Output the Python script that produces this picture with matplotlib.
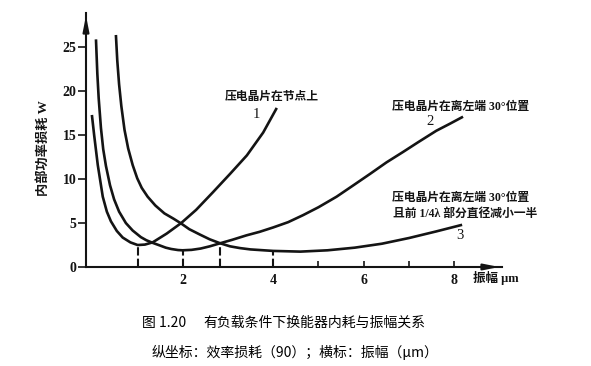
import matplotlib.pyplot as plt

# curve 1: crystal at node
c1_x = [0.0, 0.05, 0.13, 0.24, 0.33, 0.42, 0.55, 0.68, 0.85, 1.01, 1.17, 1.34, 1.65, 1.97,
        2.3, 2.67, 3.05, 3.42, 3.78, 4.08]
c1_y = [17.3, 15.0, 11.6, 8.0, 6.3, 5.2, 4.1, 3.35, 2.8, 2.5, 2.55, 2.8, 3.8, 5.0,
        6.5, 8.5, 10.6, 12.7, 15.3, 18.1]

# curve 2: crystal 30 deg from left end
c2_x = [0.09, 0.12, 0.15, 0.2, 0.25, 0.31, 0.4, 0.49, 0.6, 0.75, 0.9, 1.08, 1.2, 1.34, 1.5,
        1.63, 1.75, 1.9, 2.0, 2.2, 2.4, 2.6, 2.83, 3.1, 3.41, 3.7, 4.0, 4.33, 4.66, 5.0,
        5.4, 5.8, 6.14, 6.5, 6.87, 7.2, 7.6, 7.9, 8.19]
c2_y = [25.9, 22.0, 19.2, 15.8, 13.4, 11.5, 9.3, 7.7, 6.3, 5.0, 4.15, 3.4, 3.05, 2.75, 2.45,
        2.2, 2.05, 1.93, 1.9, 1.95, 2.1, 2.35, 2.7, 3.1, 3.6, 4.0, 4.5, 5.1, 5.9, 6.8,
        8.0, 9.4, 10.6, 11.9, 13.1, 14.2, 15.5, 16.3, 17.1]

# curve 3: same, front quarter-wave diameter halved
c3_x = [0.53, 0.56, 0.6, 0.65, 0.72, 0.8, 0.9, 1.0, 1.1, 1.23, 1.4, 1.6, 1.8, 1.97, 2.15,
        2.38, 2.6, 2.83, 3.05, 3.27, 3.5, 4.0, 4.6, 5.2, 5.8, 6.4, 7.0, 7.6, 8.17]
c3_y = [26.4, 23.5, 20.8, 18.3, 15.6, 13.5, 11.6, 10.1, 9.0, 8.0, 7.0, 6.1, 5.5, 4.95, 4.3,
        3.7, 3.15, 2.7, 2.35, 2.15, 2.0, 1.83, 1.75, 1.9, 2.2, 2.65, 3.3, 4.05, 4.8]

# dashed drop lines to the axis
drop_x = [1.01, 2.0, 2.83, 4.0]
drop_y = [2.5, 1.9, 2.7, 1.83]

x_ticks = [2, 4, 6, 8]
x_minor = [5, 7]
y_ticks = [0, 5, 10, 15, 20, 25]

ink = "#141414"
serif_cjk = ["Liberation Serif", "Noto Sans CJK SC"]
sans_cjk = ["Noto Sans CJK SC", "DejaVu Sans"]

fig = plt.figure(figsize=(5.91, 3.66), dpi=100)
ax = fig.add_axes([86 / 591, 1 - 267 / 366, (502 - 86) / 591, (267 - 13) / 366])

ax.plot(c1_x, c1_y, color=ink, lw=1.9, solid_capstyle="butt", solid_joinstyle="round")
ax.plot(c2_x, c2_y, color=ink, lw=1.9, solid_capstyle="butt", solid_joinstyle="round")
ax.plot(c3_x, c3_y, color=ink, lw=1.9, solid_capstyle="butt", solid_joinstyle="round")
ax.vlines(drop_x, 0, drop_y, colors=ink, lw=1.5, linestyles=(0, (4, 1.5)))

ax.set_xlim(-0.13, 9.05)
ax.set_ylim(0, 28.9)

for s in ["top", "right"]:
    ax.spines[s].set_visible(False)
for s in ["left", "bottom"]:
    ax.spines[s].set_linewidth(1.5)
    ax.spines[s].set_color(ink)

ax.set_xticks(x_ticks)
ax.set_xticks(x_minor, minor=True)
ax.set_yticks(y_ticks)
ax.tick_params(axis="x", which="both", direction="in", length=4, width=1.2, color=ink, pad=5)
ax.tick_params(axis="y", direction="out", length=6, width=1.2, color=ink, pad=1)
for lab in ax.get_xticklabels() + ax.get_yticklabels():
    lab.set_fontfamily("Liberation Serif")
    lab.set_fontweight("bold")
    lab.set_fontsize(10)
    lab.set_color(ink)

# axis arrows
ax.annotate("", xy=(0, 1.0), xytext=(0, 0.93), xycoords="axes fraction",
            arrowprops=dict(arrowstyle="-|>,head_length=0.9,head_width=0.18", color=ink, lw=1.5))
ax.annotate("", xy=(1.0, 0), xytext=(0.95, 0), xycoords="axes fraction",
            arrowprops=dict(arrowstyle="-|>,head_length=0.9,head_width=0.18", color=ink, lw=1.5))

# curve annotations
ax.text(2.94, 19.3, "压电晶片在节点上", family=serif_cjk, fontsize=8.5, fontweight="bold",
        ha="left", va="center", color=ink)
ax.text(3.64, 17.3, "1", family="Liberation Serif", fontsize=10.5, ha="center", va="center", color=ink)
ax.text(6.62, 18.2, "压电晶片在离左端 30°位置", family=serif_cjk, fontsize=8.5, fontweight="bold",
        ha="left", va="center", color=ink)
ax.text(7.46, 16.5, "2", family="Liberation Serif", fontsize=10.5, ha="center", va="center", color=ink)
ax.text(6.62, 7.84, "压电晶片在离左端 30°位置", family=serif_cjk, fontsize=8.5, fontweight="bold",
        ha="left", va="center", color=ink)
ax.text(6.64, 6.0, "且前 1/4λ 部分直径减小一半", family=serif_cjk, fontsize=8.5, fontweight="bold",
        ha="left", va="center", color=ink)
ax.text(8.12, 3.6, "3", family="Liberation Serif", fontsize=10.5, ha="center", va="center", color=ink)

# axis labels
ax.text(8.41, -1.25, "振幅 μm", family=serif_cjk, fontsize=9, fontweight="bold",
        ha="left", va="center", color=ink, clip_on=False)
fig.text(43 / 591, 1 - 148 / 366, "内部功率损耗 W", family=serif_cjk, fontsize=9.5,
         fontweight="bold", rotation=90, ha="center", va="center", color=ink)

# caption
fig.text(142 / 591, 1 - 323 / 366, "图 1.20", family=sans_cjk, fontsize=10, ha="left", va="center")
fig.text(203 / 591, 1 - 323 / 366, "有负载条件下换能器内耗与振幅关系", family=sans_cjk, fontsize=10,
         ha="left", va="center")
fig.text(152 / 591, 1 - 352 / 366, "纵坐标：效率损耗（90）；横标：振幅（μm）", family=sans_cjk,
         fontsize=10, ha="left", va="center")

fig.savefig("out.png", dpi=100)
